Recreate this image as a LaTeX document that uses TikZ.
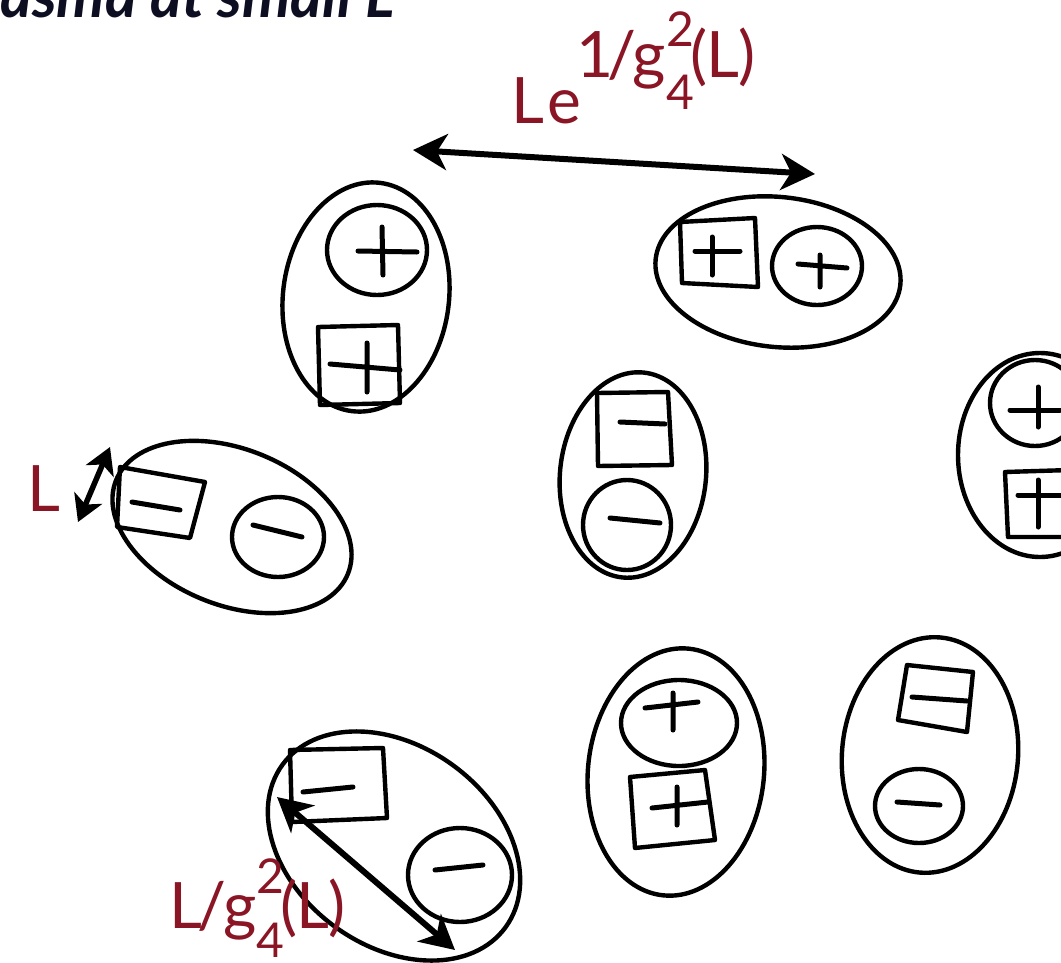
\documentclass[tikz,border=0pt]{standalone}
\usepackage{fontspec}
\setmainfont{Lato}
\usetikzlibrary{arrows.meta}
\definecolor{lblred}{RGB}{138,21,36}
\definecolor{titlecol}{RGB}{14,14,35}
\newcommand\smallfs{\fontsize{48}{48}\selectfont}
\tikzset{
  sketch/.style={line width=4.4pt, line join=round},
  sign/.style={line width=5pt, line cap=round},
  meas/.style={line width=6pt, {Stealth[length=34pt,width=36pt,inset=10pt]}-{Stealth[length=34pt,width=36pt,inset=10pt]}},
  smallmeas/.style={line width=5.5pt, {Stealth[length=26pt,width=30pt,inset=7pt]}-{Stealth[length=26pt,width=30pt,inset=7pt]}},
  lbl/.style={text=lblred, inner sep=0pt, font=\fontsize{64}{64}\selectfont},
}
\begin{document}
\begin{tikzpicture}[x=1pt,y=-1pt]
\useasboundingbox (0,0) rectangle (1061,962);
\clip (0,0) rectangle (1061,962);
% title (cut off at the top)
\node[anchor=base west, inner sep=0pt, text=titlecol, font=\fontsize{61}{61}\selectfont\bfseries\itshape] (title) at (0,17) {\llap{Pl}asma at small L};

% ---- dipole A (top left)
\draw[sketch, shift={(366,297)}, rotate=-7] (0,0) ellipse [x radius=83, y radius=115];
\draw[sketch] (377,250) ellipse [x radius=50, y radius=45];
\draw[sign] (358,251) -- (417,252) (382,227) -- (383,275);
\draw[sketch] (318,327) -- (398,325) -- (400,403) -- (320,405) -- cycle;
\draw[sign] (330,364) -- (400,370) (367,343) -- (367,392);

% ---- dipole B (top right)
\draw[sketch, shift={(778,272)}, rotate=-6] (0,0) ellipse [x radius=123, y radius=75];
\draw[sketch] (680,222) -- (755,218) -- (758,287) -- (682,283) -- cycle;
\draw[sign] (695,251) -- (740,251) (712,237) -- (712,275);
\draw[sketch] (817,266) ellipse [x radius=45, y radius=39];
\draw[sign] (798,264) -- (847,268) (820,255) -- (820,287);

% ---- dipole C (left)
\draw[sketch, shift={(232,527)}, rotate=-22] (0,0) ellipse [x radius=125, y radius=78];
\draw[sketch] (120,467) -- (205,482) -- (190,538) -- (117,527) -- cycle;
\draw[sign] (132,502) -- (180,510);
\draw[sketch] (278,537) ellipse [x radius=46, y radius=40];
\draw[sign] (253,525) -- (302,537);

% ---- dipole D (middle)
\draw[sketch, shift={(633,475)}, rotate=-6] (0,0) ellipse [x radius=73, y radius=103];
\draw[sketch] (597,393) -- (668,392) -- (672,465) -- (598,466) -- cycle;
\draw[sign] (620,422) -- (665,424);
\draw[sketch] (627,525) ellipse [x radius=44, y radius=45];
\draw[sign] (610,518) -- (660,523);

% ---- dipole E (right edge)
\draw[sketch] (1040,455) ellipse [x radius=82, y radius=102];
\draw[sketch] (1035,403) ellipse [x radius=45, y radius=43];
\draw[sign] (1010,410) -- (1060,410) (1038,387) -- (1038,427);
\draw[sketch] (1005,472) -- (1070,470) -- (1070,537) -- (1008,537) -- cycle;
\draw[sign] (1018,495) -- (1061,495) (1038,480) -- (1038,527);

% ---- dipole F (bottom left)
\draw[sketch, shift={(394,846)}, rotate=-36] (0,0) ellipse [x radius=138, y radius=100];
\draw[sketch] (290,750) -- (383,748) -- (387,818) -- (292,822) -- cycle;
\draw[sign] (303,792) -- (353,787);
\draw[sketch] (460,875) ellipse [x radius=52, y radius=47];
\draw[sign] (435,870) -- (483,865);

% ---- dipole G (bottom centre)
\draw[sketch, shift={(676,772)}, rotate=-6] (0,0) ellipse [x radius=88, y radius=124];
\draw[sketch] (679,723) ellipse [x radius=58, y radius=43];
\draw[sign] (645,708) -- (698,702) (673,693) -- (673,730);
\draw[sketch] (630,777) -- (705,770) -- (715,840) -- (635,848) -- cycle;
\draw[sign] (652,808) -- (708,802) (677,787) -- (677,825);

% ---- dipole H (bottom right)
\draw[sketch, shift={(930,755)}, rotate=-5] (0,0) ellipse [x radius=88, y radius=118];
\draw[sketch] (907,665) -- (973,672) -- (967,732) -- (898,720) -- cycle;
\draw[sign] (912,697) -- (967,701);
\draw[sketch] (919,806) ellipse [x radius=44, y radius=37];
\draw[sign] (897,802) -- (940,805);

% ---- measurement arrows
\coordinate (topA) at (413,150);
\coordinate (topB) at (815,174);
\draw[meas] (topA) -- (topB);
\coordinate (leftA) at (110,447);
\coordinate (leftB) at (78,522);
\draw[smallmeas] (leftA) -- (leftB);
\coordinate (botA) at (277,797);
\coordinate (botB) at (455,950);
\draw[meas] (botA) -- (botB);

% ---- labels
\node[lbl, anchor=base west] (toplbl) at (511,123)
  {L\kern3pt e\raisebox{46pt}{\kern-4pt 1\kern-7pt/\kern-3pt g\rlap{\raisebox{31pt}{\smallfs 2}}\raisebox{-32pt}{\smallfs 4}\kern-4pt(\kern-1pt L\kern-1pt)}};
\node[lbl, anchor=base west] (leftlbl) at (27,511) {L};
\node[lbl, anchor=base west] (botlbl) at (169,928)
  {L\kern-5pt/\kern-3pt g\rlap{\raisebox{35pt}{\smallfs 2}}\raisebox{-29pt}{\smallfs 4}\kern-4pt(\kern-1pt L\kern-1pt)};
\end{tikzpicture}
\end{document}
